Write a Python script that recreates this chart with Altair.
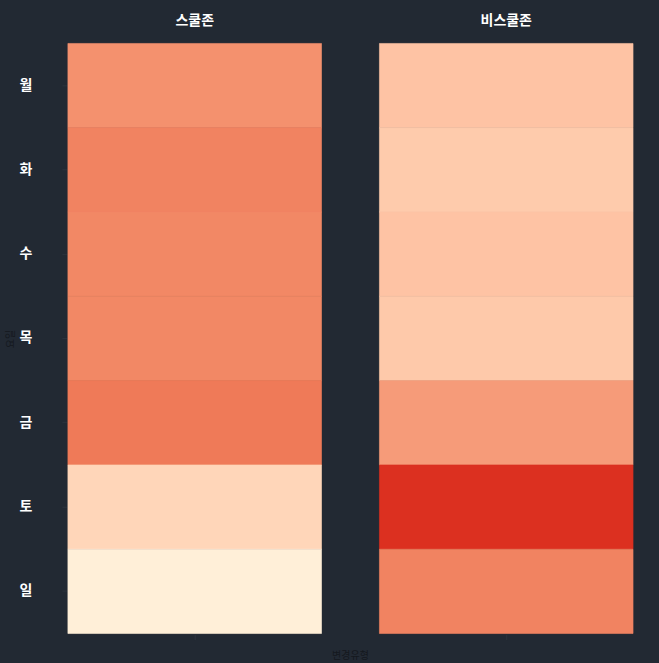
import altair as alt
import pandas as pd

days = ["월", "화", "수", "목", "금", "토", "일"]
zones = ["스쿨존", "비스쿨존"]
change_type = "변경"
school_vals = [0.45, 0.51, 0.49, 0.49, 0.55, 0.20, 0.01]
nonschool_vals = [0.30, 0.26, 0.30, 0.27, 0.42, 0.80, 0.51]

# colour ramp stops (style)
ramp_domain = [0, 0.2, 0.3, 0.45, 0.55, 0.8]
ramp_range = ["#fff0da", "#ffd6b9", "#fec3a4", "#f4916e", "#ef7a58", "#dc3020"]

rows = []
for d, v in zip(days, school_vals):
    rows.append({"zone": zones[0], "day": d, "type": change_type, "value": v})
for d, v in zip(days, nonschool_vals):
    rows.append({"zone": zones[1], "day": d, "type": change_type, "value": v})
df = pd.DataFrame(rows)

bg = "#222933"
font = "Noto Sans CJK KR"
scale = alt.Scale(type="linear", domain=ramp_domain, range=ramp_range, interpolate="rgb")

chart = alt.Chart(df).mark_rect(strokeWidth=0.6).encode(
    x=alt.X("type:N", title=None,
            axis=alt.Axis(labels=False, domain=False, tickColor="#2c333d")),
    y=alt.Y("day:N", sort=days, title="요일",
            axis=alt.Axis(domain=False, tickColor="#2c333d", labelColor="white",
                          labelFontSize=14, labelFontWeight="bold", labelPadding=30,
                          titleColor="#14181e", titleFontSize=10, titleFontWeight="normal",
                          titlePadding=4)),
    color=alt.Color("value:Q", scale=scale, legend=None),
    stroke=alt.Stroke("value:Q", scale=scale, legend=None),
).properties(width=254, height=591).facet(
    column=alt.Column("zone:N", sort=zones, title="변경유형",
                      header=alt.Header(labelColor="white", labelFontSize=14,
                                        labelFontWeight="bold", labelFont=font,
                                        labelPadding=14, labelOrient="top",
                                        titleOrient="bottom", titleColor="#14181e",
                                        titleFontSize=10, titleFontWeight="normal",
                                        titleFont=font, titlePadding=0)),
    spacing=56,
).properties(
    padding={"left": 5, "top": 14, "right": 25, "bottom": 4}
).configure(background=bg, font=font).configure_view(stroke=None).configure_axis(
    grid=False, labelFont=font, titleFont=font
)

chart.save("out.html", embed_options={"renderer": "svg", "actions": False})
